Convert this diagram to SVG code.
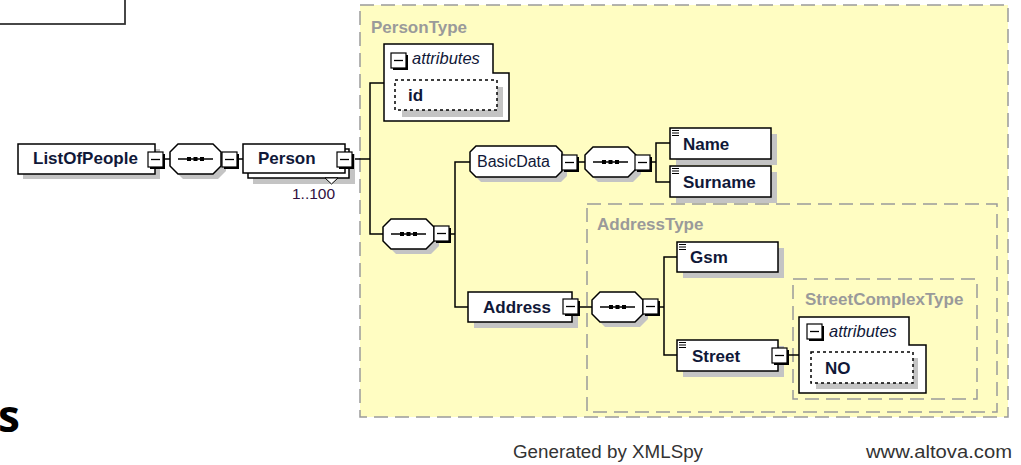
<svg xmlns="http://www.w3.org/2000/svg" xmlns:xlink="http://www.w3.org/1999/xlink" width="1021" height="465" viewBox="0 0 1021 465">
<style>
.box{fill:#fff;stroke:#000;stroke-width:1.5}
.sh{fill:#c4c4c4}
.ln{stroke:#000;stroke-width:1.5;fill:none}
.t{font-family:"Liberation Sans",Arial,sans-serif;font-size:17px;font-weight:bold;fill:#101838}
.n{font-family:"Liberation Sans",Arial,sans-serif;font-size:16px;fill:#101838}
.it{font-family:"Liberation Sans",Arial,sans-serif;font-size:16.5px;font-style:italic;fill:#101838}
.lbl{font-family:"Liberation Sans",Arial,sans-serif;font-size:17px;font-weight:bold;fill:#9a9a9a}
.dash{fill:none;stroke:#9a9a9a;stroke-width:1.5;stroke-dasharray:14 7}
.att{fill:#fff;stroke:#000;stroke-width:1.5;stroke-dasharray:3 3}
.foot{font-family:"Liberation Sans",Arial,sans-serif;font-size:17.5px;fill:#333}
</style>
<defs>
<g id="mb"><rect x="2" y="2" width="15" height="15" fill="#000"/><rect x="0" y="0" width="15" height="15" fill="#fff" stroke="#000" stroke-width="1.2"/><line x1="3" y1="7.5" x2="12" y2="7.5" stroke="#000" stroke-width="1.3"/></g>
<g id="seq">
<polygon class="sh" transform="translate(5,5)" points="8,0 43,0 51,8 51,22 43,30 8,30 0,22 0,8"/>
<polygon class="box" points="8,0 43,0 51,8 51,22 43,30 8,30 0,22 0,8"/>
<line x1="8" y1="15" x2="43" y2="15" stroke="#000" stroke-width="1.3"/>
<rect x="17" y="13" width="4" height="4" fill="#000"/><rect x="23.5" y="13" width="4" height="4" fill="#000"/><rect x="30" y="13" width="4" height="4" fill="#000"/>
</g>
<g id="ic"><line x1="0" y1="0.5" x2="7" y2="0.5" stroke="#000"/><line x1="0" y1="3" x2="7" y2="3" stroke="#000"/><line x1="0" y1="5.5" x2="7" y2="5.5" stroke="#000"/></g>
</defs>

<rect x="-10" y="-10" width="135" height="34" fill="#fff" stroke="#333" stroke-width="1.8"/>
<text x="-2" y="432" font-family="'Open Sans','Liberation Sans',sans-serif" font-size="44" font-weight="bold" fill="#000">s</text>

<g id="PersonType">
<rect x="360" y="5" width="648" height="412" class="dash" style="fill:#fffdc2"/>
<text class="lbl" x="371" y="33">PersonType</text>
</g>
<g id="AddressType">
<rect x="587" y="204" width="410" height="208" class="dash"/>
<text class="lbl" x="597" y="230">AddressType</text>
</g>
<g id="StreetComplexType">
<rect x="793" y="279" width="184" height="120" class="dash"/>
<text class="lbl" x="805" y="305">StreetComplexType</text>
</g>

<g id="connectors" class="ln">
<line x1="163" y1="159" x2="170" y2="159"/>
<line x1="237" y1="159" x2="243" y2="159"/>
<line x1="352" y1="159" x2="370" y2="159"/>
<polyline points="384,83 370,83 370,234 383,234"/>
<line x1="451" y1="234" x2="455" y2="234"/>
<polyline points="470,162 455,162 455,307 468,307"/>
<line x1="578" y1="162" x2="585" y2="162"/>
<line x1="651" y1="162" x2="656" y2="162"/>
<polyline points="670,143 656,143 656,182 670,182"/>
<line x1="579" y1="307" x2="592" y2="307"/>
<line x1="659" y1="307" x2="664" y2="307"/>
<polyline points="677,257 664,257 664,355 677,355"/>
<line x1="787" y1="355" x2="799" y2="355"/>
</g>

<g id="ListOfPeople">
<rect class="sh" x="23" y="149" width="137" height="30"/>
<rect class="box" x="18" y="144" width="137" height="30"/>
<text class="t" x="33" y="164">ListOfPeople</text>
<use xlink:href="#mb" x="148" y="152"/>
</g>
<g id="seq1"><use xlink:href="#seq" x="170" y="144"/><use xlink:href="#mb" x="222" y="152"/></g>

<g id="Person">
<rect class="sh" x="253" y="154" width="102" height="30"/>
<rect class="box" x="248" y="149" width="101" height="29"/>
<rect class="box" x="243" y="144" width="102" height="29"/>
<polygon points="325,178 338,178 331.5,184" fill="#fff" stroke="#000" stroke-width="1"/>
<text class="t" x="258" y="164">Person</text>
<use xlink:href="#mb" x="337" y="152"/>
<text x="292" y="199" font-family="'Liberation Sans',Arial,sans-serif" font-size="15.5" fill="#301040">1..100</text>
</g>

<g id="attributes1">
<polygon class="box" points="384,44 493,44 493,73 509,73 509,121 384,121"/>
<use xlink:href="#mb" x="391" y="53"/>
<text class="it" x="412" y="64">attributes</text>
<rect class="sh" x="402" y="87" width="101" height="30"/>
<rect class="att" x="395" y="80" width="102" height="30"/>
<text class="t" x="408" y="101">id</text>
</g>

<g id="seq2"><use xlink:href="#seq" x="383" y="219"/><use xlink:href="#mb" x="434" y="226"/></g>

<g id="BasicData">
<polygon class="sh" transform="translate(5,5)" points="476,146 556,146 562,152 562,171 556,177 476,177 470,171 470,152"/>
<polygon class="box" points="476,146 556,146 562,152 562,171 556,177 476,177 470,171 470,152"/>
<text class="n" x="477" y="167">BasicData</text>
<use xlink:href="#mb" x="562" y="155"/>
</g>
<g id="seq3"><use xlink:href="#seq" x="585" y="147"/><use xlink:href="#mb" x="635" y="155"/></g>

<g id="Name">
<rect class="sh" x="676" y="134" width="101" height="31"/>
<rect class="box" x="670" y="128" width="101" height="31"/>
<use xlink:href="#ic" x="672" y="130"/>
<text class="t" x="683" y="150">Name</text>
</g>
<g id="Surname">
<rect class="sh" x="676" y="172" width="101" height="31"/>
<rect class="box" x="670" y="166" width="101" height="31"/>
<use xlink:href="#ic" x="672" y="168"/>
<text class="t" x="683" y="188">Surname</text>
</g>

<g id="Address">
<rect class="sh" x="474" y="298" width="104" height="30"/>
<rect class="box" x="468" y="292" width="104" height="30"/>
<text class="t" x="483" y="313">Address</text>
<use xlink:href="#mb" x="563" y="299"/>
</g>
<g id="seq4"><use xlink:href="#seq" x="592" y="292"/><use xlink:href="#mb" x="643" y="299"/></g>

<g id="Gsm">
<rect class="sh" x="683" y="248" width="101" height="30"/>
<rect class="box" x="677" y="242" width="101" height="30"/>
<use xlink:href="#ic" x="679" y="244"/>
<text class="t" x="690" y="263">Gsm</text>
</g>
<g id="Street">
<rect class="sh" x="683" y="346" width="101" height="31"/>
<rect class="box" x="677" y="340" width="101" height="31"/>
<use xlink:href="#ic" x="679" y="342"/>
<text class="t" x="692" y="362">Street</text>
<use xlink:href="#mb" x="772" y="348"/>
</g>

<g id="attributes2">
<polygon class="box" points="799,317 909,317 909,345 926,345 926,393 799,393"/>
<use xlink:href="#mb" x="807" y="324"/>
<text class="it" x="829" y="337">attributes</text>
<rect class="sh" x="816" y="358" width="102" height="31"/>
<rect class="att" x="811" y="352" width="102" height="31"/>
<text class="t" x="825" y="374">NO</text>
</g>

<text class="foot" x="513" y="458" textLength="190" lengthAdjust="spacingAndGlyphs">Generated by XMLSpy</text>
<text class="foot" x="866" y="458" textLength="146" lengthAdjust="spacingAndGlyphs">www.altova.com</text>
</svg>
